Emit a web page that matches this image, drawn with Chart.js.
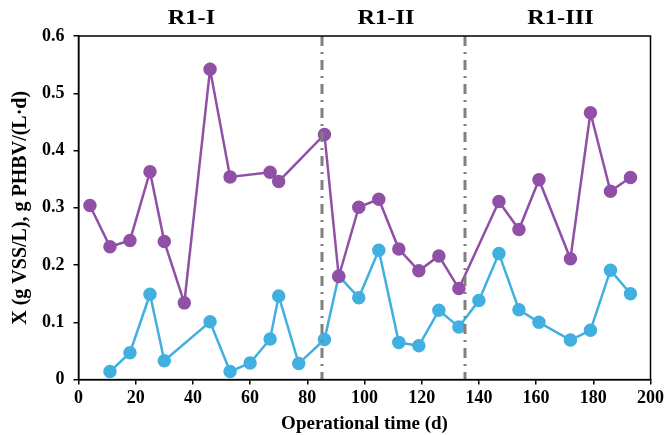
<!DOCTYPE html>
<html>
<head>
<meta charset="utf-8">
<script src="https://cdn.jsdelivr.net/npm/chart.js@4/dist/chart.umd.min.js"></script>
<style>
  html, body { margin: 0; padding: 0; background: #fff; }
  #wrap { width: 667px; height: 435px; position: relative; }
</style>
</head>
<body>
<div id="wrap"><canvas id="chart"></canvas></div>
<script>
// purple series (PHBV)
const purpleDays = [4, 11, 18, 25, 30, 37, 46, 53, 67, 70, 86, 91, 98, 105, 112, 119, 126, 133, 147, 154, 161, 172, 179, 186, 193];
const purpleVals = [0.304, 0.232, 0.243, 0.363, 0.241, 0.134, 0.542, 0.354, 0.362, 0.346, 0.428, 0.180, 0.301, 0.315, 0.228, 0.190, 0.216, 0.159, 0.311, 0.262, 0.349, 0.211, 0.466, 0.329, 0.353];
// blue series (VSS)
const blueDays = [11, 18, 25, 30, 46, 53, 60, 67, 70, 77, 86, 91, 98, 105, 112, 119, 126, 133, 140, 147, 154, 161, 172, 179, 186, 193];
const blueVals = [0.014, 0.047, 0.149, 0.033, 0.101, 0.014, 0.029, 0.071, 0.146, 0.028, 0.070, 0.181, 0.143, 0.226, 0.065, 0.059, 0.121, 0.092, 0.138, 0.220, 0.122, 0.100, 0.069, 0.086, 0.191, 0.150];

const phaseBreaks = [85, 135];
const phaseLabels = ["R1-I", "R1-II", "R1-III"];
const phaseLabelAt = [39.5, 107.5, 168.5];

const serif = "'Liberation Serif', 'Times New Roman', serif";

const toPoints = (xs, ys) => xs.map((x, i) => ({ x: x, y: ys[i] }));

// dash-dot phase lines, labels and frame
const phasePlugin = {
  id: "phases",
  afterDatasetsDraw(chart) {
    const { ctx, chartArea, scales } = chart;
    ctx.save();
    ctx.strokeStyle = "#808080";
    ctx.lineWidth = 3;
    ctx.setLineDash([10, 6, 2, 6]);
    phaseBreaks.forEach(d => {
      const px = Math.round(scales.x.getPixelForValue(d));
      ctx.beginPath();
      ctx.moveTo(px, chartArea.top);
      ctx.lineTo(px, chartArea.bottom);
      ctx.stroke();
    });
    ctx.setLineDash([]);
    ctx.strokeStyle = "#000";
    ctx.lineWidth = 1.5;
    ctx.strokeRect(chartArea.left, chartArea.top, chartArea.right - chartArea.left, chartArea.bottom - chartArea.top);

    ctx.fillStyle = "#000";
    ctx.font = "bold 20px " + serif;
    ctx.textAlign = "center";
    ctx.textBaseline = "middle";
    phaseLabels.forEach((t, i) => {
      const cx = scales.x.getPixelForValue(phaseLabelAt[i]);
      ctx.save();
      ctx.translate(cx, 19);
      ctx.scale(1.22, 1);
      ctx.fillText(t, 0, 0);
      ctx.restore();
    });
    ctx.restore();
  }
};

new Chart(document.getElementById("chart"), {
  type: "line",
  data: {
    datasets: [
      {
        label: "PHBV",
        data: toPoints(purpleDays, purpleVals),
        borderColor: "#9050A6",
        backgroundColor: "#9050A6",
        borderWidth: 2.5,
        pointRadius: 5.5,
        pointHoverRadius: 5.5,
        tension: 0
      },
      {
        label: "VSS",
        data: toPoints(blueDays, blueVals),
        borderColor: "#41B0E0",
        backgroundColor: "#41B0E0",
        borderWidth: 2.5,
        pointRadius: 5.5,
        pointHoverRadius: 5.5,
        tension: 0
      }
    ]
  },
  options: {
    responsive: true,
    maintainAspectRatio: false,
    animation: false,
    layout: { padding: { top: 36, right: 16, left: 9, bottom: 0 } },
    plugins: {
      legend: { display: false },
      tooltip: { enabled: false }
    },
    scales: {
      x: {
        type: "linear",
        min: 0,
        max: 200,
        ticks: {
          stepSize: 20,
          color: "#000",
          font: { family: serif, size: 18, weight: "bold" },
          padding: 3
        },
        grid: { display: true, drawOnChartArea: false, drawTicks: true, tickLength: 5, color: "#000", lineWidth: 1.5 },
        border: { display: true, color: "#000", width: 1.5 },
        title: {
          display: true,
          text: "Operational time (d)",
          color: "#000",
          font: { family: serif, size: 19, weight: "bold" },
          padding: { top: 0, bottom: 0 }
        }
      },
      y: {
        min: 0,
        max: 0.6,
        ticks: {
          stepSize: 0.1,
          color: "#000",
          font: { family: serif, size: 18, weight: "bold" },
          padding: 9,
          callback: v => (v === 0 ? "0" : v.toFixed(1))
        },
        grid: { display: true, drawOnChartArea: false, drawTicks: true, tickLength: 5, color: "#000", lineWidth: 1.5 },
        border: { display: true, color: "#000", width: 1.5 },
        title: {
          display: true,
          text: "X (g VSS/L), g PHBV/(L·d)",
          color: "#000",
          font: { family: serif, size: 20, weight: "bold" },
          padding: { top: 0, bottom: 0 }
        }
      }
    }
  },
  plugins: [phasePlugin]
});
</script>
</body>
</html>
